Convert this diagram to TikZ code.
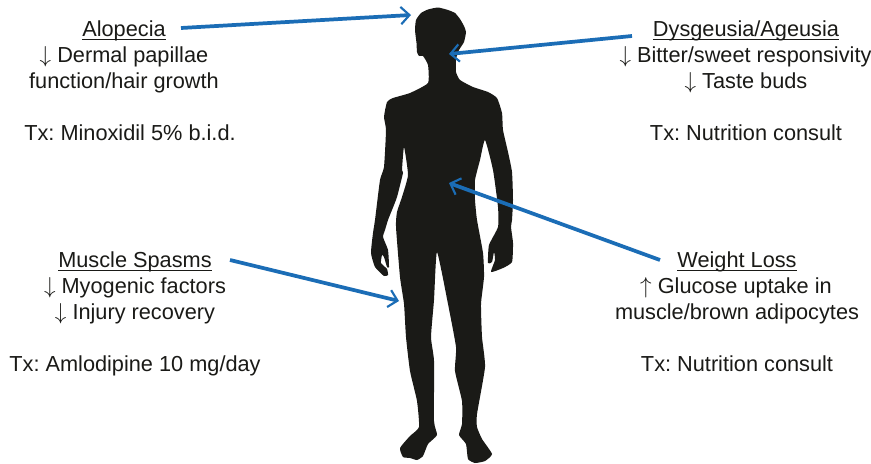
\documentclass[tikz,border=0pt]{standalone}
\usepackage{fontspec}
\setmainfont{Liberation Sans}
\usetikzlibrary{arrows.meta}
\definecolor{inkc}{HTML}{1A1A17}
\definecolor{bluec}{HTML}{1B6DB6}
\newsavebox\ulbox
\newcommand{\ulin}[1]{\sbox\ulbox{#1}\usebox\ulbox\llap{\rule[-2.5pt]{\wd\ulbox}{0.8pt}}}
\tikzset{
  lbl/.style={anchor=base,inner sep=0pt,outer sep=0pt,yshift=-0.6pt,text=inkc,font=\fontsize{16.3pt}{19pt}\selectfont\frenchspacing},
  pointer/.style={draw=bluec,line width=2.8pt,-{Straight Barb[length=6.5pt,width=13pt,line width=1.6pt]}},
  body/.style={fill=inkc,draw=none}
}
\begin{document}
\begin{tikzpicture}[x=0.75pt,y=-0.75pt]
\useasboundingbox (0,0) rectangle (871,464);
\fill[white] (0,0) rectangle (871,464);
\fill[body] plot[smooth cycle,tension=0.3] coordinates {
(438,7.5)(448,10)(455,13)(460,19)(464,26)(466,32)(464,42)(459,50)(456,59)(456,72)(460,80)(473,87)(488,92)(497,98)(502,113)(503,130)
(508,152)(512,172)(513,200)(512,220)(511,227)(513,243)(512,262)(503,268)(491,272)(495,260)(494,252)(492,262)(488,263)(489,245)(498,227)(498,207)(493,170)(485,140)
(480,160)(475,180)(475,200)(477,220)(483,253)(484,277)(481,304)(482,337)(485,367)(477,414)(477,427)(482,439)(492,454)(485,461)(475,463)(468,459)(466,444)(459,435)(462,424)(462,401)(455,371)(456,347)(448,304)(437,252)
(434,300)(431,337)(434,361)(434,421)(437,435)(428,444)(423,456)(417,460)(410,458)(403,457)(400,448)(410,436)(419,427)(417,401)(410,371)(406,337)(404,304)(400,277)(396,227)(397,212)(402,197)(408,175)(404,147)
(402,170)(403,173)(397,197)(392,210)(388,220)(385,230)(383,237)(388,250)(389,267)(387,267)(384,257)(382,255)(381,263)(387,269)(388,275)(384,276)(375,267)(371,253)(373,233)(375,220)(380,180)(384,167)(386,130)
(384,117)(387,102)(393,98)(410,93)(428,83)(428,65)(423,56)(419,56)(417,52)(416.5,43)(415,30)(416,20)(421,13)(428,9.5)};
\node[lbl] (alo) at (124,36) {\ulin{Alopecia}};
\node[lbl] (alo1) at (124,62) {$\downarrow$ Dermal papillae};
\node[lbl] (alo2) at (124,88) {function/hair growth};
\node[lbl] (alo3) at (130,140) {Tx: Minoxidil 5\% b.i.d.};
\node[lbl] (dys) at (746,36) {\ulin{Dysgeusia/Ageusia}};
\node[lbl] (dys1) at (745.5,62) {$\downarrow$ Bitter/sweet responsivity};
\node[lbl] (dys2) at (746,88) {$\downarrow$ Taste buds};
\node[lbl] (dys3) at (746,140) {Tx: Nutrition consult};
\node[lbl] (mus) at (135,267) {\ulin{Muscle Spasms}};
\node[lbl] (mus1) at (135,293) {$\downarrow$ Myogenic factors};
\node[lbl] (mus2) at (135,319) {$\downarrow$ Injury recovery};
\node[lbl] (mus3) at (135,371) {Tx: Amlodipine 10 mg/day};
\node[lbl] (wei) at (737,267) {\ulin{Weight Loss}};
\node[lbl] (wei1) at (736,293) {$\uparrow$ Glucose uptake in};
\node[lbl] (wei2) at (737,319) {muscle/brown adipocytes};
\node[lbl] (wei3) at (737,371) {Tx: Nutrition consult};
\coordinate (scalp) at (411,15);
\coordinate (mouth) at (449,54);
\coordinate (belly) at (449,183);
\coordinate (thigh) at (399,301);
\coordinate (aloS) at (181,28);
\coordinate (dysS) at (632,36);
\coordinate (weiS) at (660,260);
\coordinate (musS) at (230,260);
\draw[pointer] (aloS) -- (scalp);
\draw[pointer] (dysS) -- (mouth);
\draw[pointer] (weiS) -- (belly);
\draw[pointer] (musS) -- (thigh);
\end{tikzpicture}
\end{document}
